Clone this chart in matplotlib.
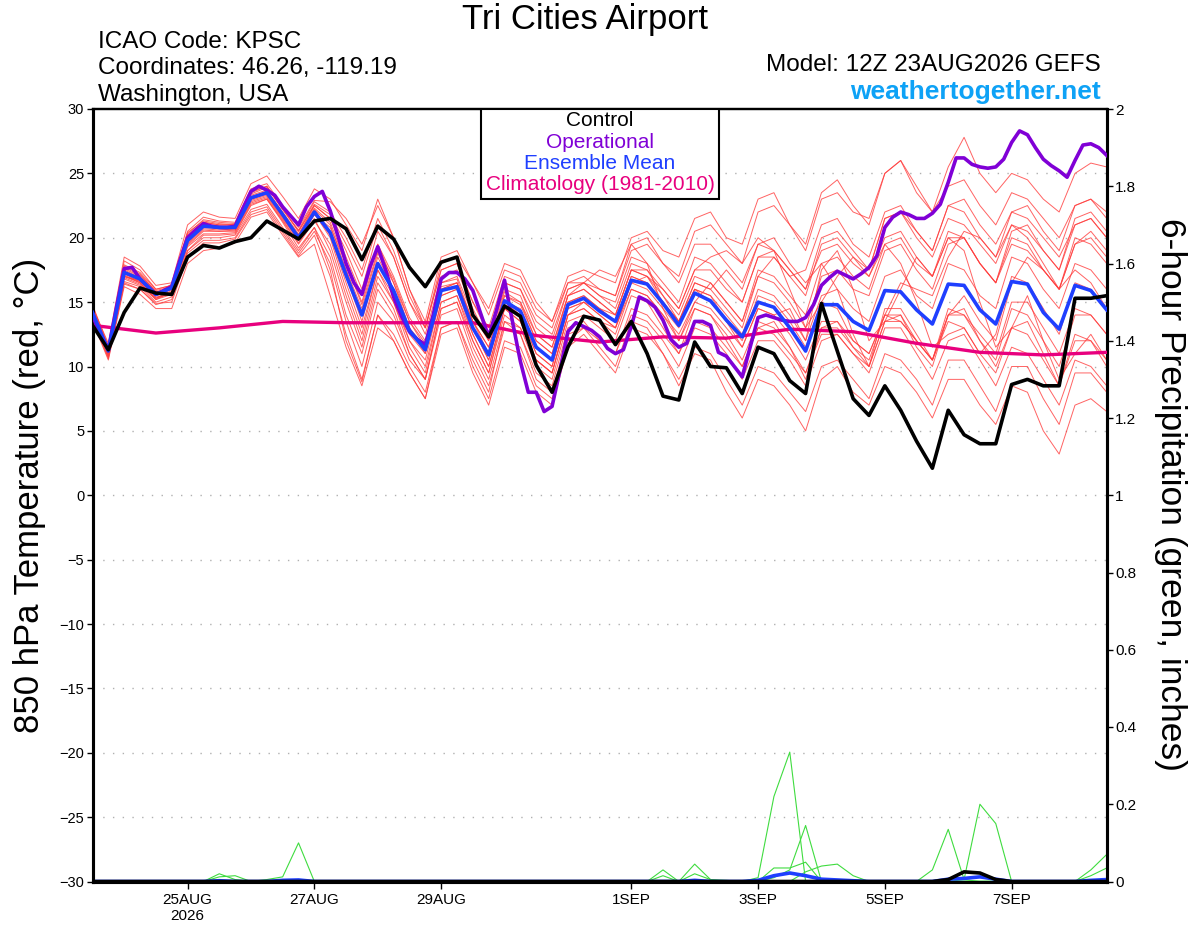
import numpy as np
import matplotlib
matplotlib.use('Agg')
import matplotlib.pyplot as plt
from matplotlib.patches import Rectangle

plt.rcParams['font.family'] = ['Liberation Sans', 'DejaVu Sans']

# ---------------- data ----------------
start = np.datetime64('2026-08-23T12:00')

control = [13.2, 11.3, 14.2, 16.1, 15.7, 15.6, 18.5, 19.4, 19.2, 19.7, 20.0, 21.3, 20.6, 19.9, 21.3,
           21.5, 20.7, 18.3, 20.9, 19.9, 17.7, 16.2, 18.1, 18.5, 14.0, 12.3, 14.7, 13.9, 10.1, 8.0,
           11.5, 13.9, 13.6, 11.7, 13.5, 11.0, 7.7, 7.4, 11.9, 10.0, 9.9, 7.9, 11.5, 11.0, 8.9,
           7.9, 14.9, 11.2, 7.5, 6.2, 8.5, 6.6, 4.2, 2.1, 6.6, 4.7, 4.0, 4.0, 8.6, 9.0,
           8.5, 8.5, 15.3, 15.3, 15.5]

ens_mean = [14.2, 11.2, 17.3, 16.8, 15.6, 16.1, 19.8, 20.9, 20.8, 20.8, 23.1, 23.5, 21.8, 20.0, 22.0,
            20.4, 17.1, 14.0, 18.0, 15.9, 12.8, 11.3, 15.9, 16.2, 13.0, 10.9, 15.1, 14.3, 11.5, 10.5,
            14.8, 15.3, 14.3, 13.5, 16.7, 16.4, 14.9, 13.2, 15.7, 15.1, 13.6, 12.3, 15.0, 14.6, 13.0,
            11.2, 14.8, 14.8, 13.5, 12.8, 15.9, 15.8, 14.4, 13.3, 16.4, 16.3, 14.4, 13.3, 16.6, 16.4,
            14.2, 12.9, 16.3, 15.9, 14.4]

# operational run, 3-hourly
operational = [13.9, 12.6, 11.3, 14.5, 17.6, 17.7, 16.8, 16.2, 15.6, 15.9, 16.2, 18.2, 20.0, 20.6, 21.1,
               20.9, 20.8, 20.8, 20.9, 22.3, 23.6, 24.0, 23.7, 23.3, 22.4, 21.7, 21.0, 22.4, 23.2, 23.6,
               22.1, 20.1, 18.0, 16.5, 15.6, 17.7, 19.3, 17.5, 15.4, 13.9, 12.7, 12.1, 11.7, 14.0, 16.8,
               17.3, 17.3, 16.8, 15.9, 14.1, 12.3, 14.4, 16.7, 13.5, 10.4, 8.0, 8.0, 6.5, 6.9, 9.7,
               12.7, 13.4, 13.1, 12.8, 12.3, 11.4, 11.0, 11.3, 13.1, 15.4, 15.1, 14.6, 13.6, 12.1, 11.5,
               11.8, 13.5, 13.5, 13.2, 11.1, 10.8, 10.0, 9.2, 11.5, 13.8, 14.0, 13.8, 13.6, 13.5,
               13.5, 13.8, 14.8, 16.3, 16.9, 17.4, 17.1, 16.8, 17.2, 17.7, 18.6, 20.8, 21.6, 22.0, 21.8,
               21.5, 21.5, 21.9, 22.6, 24.3, 26.2, 26.2, 25.7, 25.5, 25.4, 25.5, 26.1, 27.4, 28.3, 28.0,
               27.0, 26.1, 25.6, 25.2, 24.7, 26.0, 27.2, 27.3, 27.0, 26.4]

# climatology, daily at 12Z
climatology = [13.2, 12.6, 13.0, 13.5, 13.4, 13.4, 13.4, 12.4, 11.9, 12.3, 12.2, 12.9, 12.7,
               11.8, 11.1, 10.9, 11.1]

member01 = [14.8, 11.6, 18.2, 17.5, 16.0, 16.3, 20.5, 21.6, 21.3, 21.2, 23.8, 24.2, 22.5, 20.8, 22.9,
            22.8, 21.5, 19.5, 22.5, 20.0, 16.0, 13.5, 18.5, 19.0, 16.5, 14.5, 18.0, 17.5, 15.0, 13.5, 17.0,
            17.5, 17.0, 16.5, 20.0, 20.5, 19.0, 18.5, 21.5, 22.0, 20.0, 19.5, 23.0, 23.5, 21.0, 19.5, 23.5,
            24.5, 22.5, 21.0, 25.0, 26.0, 23.5, 22.0, 25.5, 27.8, 25.0, 23.5, 25.0, 24.5, 23.0, 22.0, 25.0,
            25.8, 25.5]
member02 = [14.5, 11.0, 17.8, 17.2, 15.8, 16.0, 20.2, 21.2, 21.0, 21.0, 23.5, 24.0, 22.2, 20.5, 22.5,
            21.5, 19.0, 16.0, 20.5, 18.5, 15.0, 13.0, 17.5, 18.0, 15.0, 13.0, 17.0, 16.5, 14.0, 13.0, 16.5,
            17.0, 16.0, 15.5, 19.5, 20.0, 18.0, 17.0, 20.5, 21.0, 19.5, 18.0, 22.0, 22.5, 21.0, 19.0, 23.0,
            23.5, 22.0, 21.5, 25.0, 26.0, 24.0, 22.0, 24.0, 24.5, 22.5, 21.0, 23.5, 23.0, 21.5, 20.0, 22.5,
            23.0, 22.0]
member03 = [14.0, 11.3, 17.0, 16.5, 15.2, 15.8, 19.5, 20.6, 20.5, 20.6, 22.8, 23.2, 21.5, 19.8, 21.8,
            20.8, 18.0, 15.0, 19.5, 17.0, 13.8, 12.0, 16.5, 17.0, 14.0, 12.0, 16.0, 15.5, 12.5, 11.5,
            15.5, 16.5, 17.5, 17.0, 19.5, 18.0, 14.5, 12.0, 15.0, 16.5, 15.0, 13.5, 17.0, 18.5, 17.0,
            17.5, 21.0, 21.5, 19.5, 18.5, 22.0, 22.5, 20.5, 19.0, 22.5, 22.0, 20.0, 18.5, 22.0, 22.5,
            20.5, 19.0, 22.5, 23.0, 21.5]
member04 = [14.3, 11.4, 17.5, 16.9, 15.7, 16.2, 19.9, 21.0, 20.9, 20.9, 23.2, 23.6, 21.9, 20.1, 22.2,
            21.0, 17.5, 14.5, 18.8, 16.5, 13.5, 11.8, 16.5, 16.8, 13.5, 11.5, 15.8, 15.0, 12.0, 11.0, 15.5,
            16.0, 15.0, 14.0, 17.5, 17.0, 15.5, 14.0, 17.0, 16.5, 15.0, 13.5, 17.5, 17.0, 15.5, 14.0, 18.0,
            18.5, 17.0, 16.0, 19.5, 20.0, 18.0, 17.0, 20.5, 20.0, 18.0, 16.5, 20.0, 19.5, 17.5, 16.0, 20.0,
            19.5, 18.0]
member05 = [14.1, 11.0, 17.2, 16.6, 15.5, 16.0, 19.6, 20.7, 20.6, 20.7, 22.9, 23.3, 21.6, 19.8, 21.8,
            20.5, 17.0, 13.5, 18.0, 16.0, 12.5, 11.0, 16.0, 16.5, 13.0, 10.5, 15.0, 14.5, 11.5, 10.5, 15.0,
            15.5, 14.5, 13.5, 17.0, 16.5, 15.0, 13.5, 16.0, 15.5, 14.0, 12.5, 16.0, 15.5, 14.0, 12.0, 15.5,
            16.0, 14.5, 13.5, 17.0, 17.5, 15.5, 14.5, 18.0, 17.5, 15.5, 14.5, 18.5, 18.0, 16.0, 14.5, 18.0,
            17.5, 16.0]
member06 = [14.0, 10.8, 16.8, 16.3, 15.2, 15.6, 19.3, 20.3, 20.3, 20.4, 22.6, 23.0, 21.3, 19.5, 21.3,
            19.5, 15.5, 12.0, 17.0, 15.0, 12.0, 10.5, 15.5, 16.0, 12.5, 10.0, 14.5, 13.5, 10.5, 9.5,
            14.0, 14.5, 13.5, 12.5, 16.0, 15.5, 14.0, 12.5, 15.0, 14.5, 13.0, 11.5, 14.5, 14.0,
            14.5, 12.0, 17.5, 19.0, 16.0, 12.0, 13.5, 16.0, 18.5, 17.0, 20.0, 19.0, 15.0, 11.5, 13.0,
            15.5, 12.0, 9.0, 11.0, 12.5, 10.5]
member07 = [13.8, 10.6, 16.5, 16.0, 14.8, 15.2, 18.8, 19.8, 19.8, 20.0, 22.0, 22.4, 20.6, 18.8, 20.5,
            18.0, 13.5, 10.0, 15.0, 13.5, 10.5, 9.0, 14.0, 14.5, 11.0, 8.5, 13.0, 12.5, 9.5, 8.5, 13.0,
            13.5, 12.0, 11.0, 14.5, 14.0, 12.5, 11.0, 13.5, 13.0, 11.5, 10.0, 13.0, 12.5, 11.0, 9.5, 12.5,
            12.5, 11.0, 10.0, 13.5, 13.5, 12.0, 10.5, 14.0, 14.0, 12.0, 10.5, 14.5, 14.0, 12.0, 10.0, 14.0,
            14.0, 12.5]
member08 = [13.5, 10.5, 16.2, 15.6, 14.5, 14.5, 18.0, 19.0, 19.2, 19.6, 21.6, 22.0, 20.2, 18.5, 19.5,
            15.5, 11.5, 8.5, 13.0, 12.0, 9.5, 7.5, 12.5, 13.0, 9.5, 7.0, 11.5, 11.0, 8.0, 7.0, 11.5,
            12.5, 11.0, 9.5, 13.0, 12.5, 11.0, 9.0, 11.5, 11.0, 9.0, 7.0, 10.0, 9.5, 8.0, 6.5, 10.0,
            10.5, 9.0, 7.5, 11.0, 10.5, 9.0, 7.0, 10.5, 10.5, 8.5, 6.5, 10.0, 10.0, 7.5, 5.5, 9.5,
            9.5, 8.0]
member09 = [13.6, 10.7, 16.4, 16.0, 14.9, 15.0, 18.5, 19.6, 19.6, 19.9, 21.8, 22.2, 20.4, 18.6, 20.2,
            17.0, 12.5, 9.0, 14.0, 12.5, 10.0, 8.0, 13.0, 13.5, 10.0, 7.5, 12.0, 11.5, 8.5, 7.5, 12.0,
            13.0, 11.5, 10.0, 13.5, 13.0, 11.0, 8.5, 11.0, 10.5, 8.0, 6.0, 9.0, 8.5, 7.0, 5.0, 9.0,
            10.0, 8.0, 7.0, 10.0, 9.5, 8.0, 6.0, 9.0, 9.0, 7.0, 5.5, 8.5, 8.0, 5.0, 3.2, 7.0,
            7.5, 6.5]
member10 = [14.6, 11.8, 18.5, 17.8, 16.3, 16.5, 21.0, 22.0, 21.6, 21.5, 24.2, 24.8, 23.2, 21.5, 23.8,
            23.0, 21.0, 19.0, 23.0, 20.0, 16.0, 13.0, 18.0, 18.5, 16.5, 14.0, 17.5, 17.0, 14.5, 13.5, 16.5,
            16.5, 15.5, 14.5, 18.0, 17.5, 15.5, 13.5, 16.0, 15.5, 13.5, 11.5, 14.5, 14.0, 12.5, 10.5, 13.5,
            13.5, 12.0, 11.0, 14.0, 13.5, 12.0, 10.5, 13.5, 13.0, 11.0, 9.5, 13.0, 12.5, 10.5, 8.5, 12.0,
            12.0, 10.5]
member11 = [14.2, 11.1, 17.0, 16.6, 15.4, 15.6, 19.0, 20.2, 20.2, 20.3, 22.5, 23.0, 21.2, 19.2, 20.8,
            17.5, 12.0, 8.8, 14.0, 12.0, 9.5, 7.5, 13.0, 13.5, 10.5, 8.0, 13.5, 13.0, 10.5, 9.5, 14.0,
            15.0, 14.0, 13.0, 16.5, 17.0, 16.0, 14.5, 17.5, 17.5, 16.0, 15.0, 18.5, 19.0, 17.5, 16.0, 20.0,
            20.5, 19.0, 17.5, 21.5, 22.0, 20.0, 18.5, 21.5, 21.0, 19.5, 18.0, 21.0, 20.5, 19.0, 17.5, 21.0,
            21.5, 20.0]
member12 = [14.4, 11.2, 17.4, 16.8, 15.6, 16.4, 20.0, 21.1, 20.9, 20.8, 23.0, 23.4, 21.8, 20.2, 22.5,
            21.5, 18.5, 15.5, 19.5, 16.5, 13.0, 11.0, 15.5, 16.0, 13.0, 10.5, 15.0, 14.0, 11.0, 10.0,
            14.5, 15.0, 14.5, 14.0, 17.5, 17.0, 15.0, 13.5, 16.5, 16.0,
            17.5, 16.0, 19.5, 20.0, 18.0, 16.5, 18.0, 16.0, 12.5, 10.0, 13.5, 14.0, 11.5, 10.0, 14.0,
            15.5, 13.5, 12.0, 16.5, 18.5, 17.5, 16.0, 19.5, 20.5, 19.0]
member13 = [13.9, 11.0, 17.1, 16.5, 15.3, 15.9, 19.7, 20.8, 20.7, 20.6, 23.0, 23.5, 21.7, 19.9, 21.9,
            20.0, 16.0, 12.5, 17.5, 15.0, 11.5, 9.5, 15.0, 15.5, 12.0, 9.5, 14.0, 13.0, 10.0, 9.0, 13.5,
            14.0, 13.0, 12.0, 15.5, 15.0, 13.0, 11.0, 14.5, 14.0, 12.0, 10.0, 13.0, 13.5, 11.5, 9.0, 13.0,
            13.5, 11.5, 10.0, 14.5, 14.5, 12.5, 10.5, 14.0, 14.5, 12.0, 10.0, 13.0, 13.5, 11.0, 8.5, 12.5,
            12.0, 10.0]
member14 = [14.7, 11.5, 17.9, 17.3, 16.0, 16.3, 20.3, 21.4, 21.2, 21.1, 23.6, 24.0, 22.3, 20.5, 22.6,
            21.8, 19.5, 17.0, 21.0, 18.5, 15.0, 12.5, 17.0, 17.5, 14.5, 12.0, 16.5, 16.0, 13.0, 12.0, 16.0,
            16.5, 16.0, 15.5, 19.0, 19.5, 18.0, 16.5, 19.5, 19.5, 18.0, 16.5, 19.5, 19.0, 17.5, 16.0, 19.0,
            19.5, 18.0, 17.0, 20.0, 20.5, 18.5, 17.0, 20.0, 20.0, 18.0, 16.5, 19.5, 19.0, 17.5, 16.0, 19.5,
            20.0, 18.5]
member15 = [13.7, 10.9, 16.6, 16.2, 15.0, 15.4, 19.0, 20.0, 20.0, 20.2, 22.2, 22.6, 20.8, 19.0, 20.8,
            18.5, 14.0, 11.0, 16.0, 14.0, 11.0, 9.0, 14.5, 15.0, 11.5, 9.0, 13.5, 12.5, 9.0, 8.0, 12.5,
            13.0, 12.0, 11.0, 14.0, 13.5, 12.0, 10.0, 13.0, 12.5, 11.0, 9.0, 12.0, 12.0, 10.5, 8.5, 12.0,
            12.5, 11.0, 9.5, 13.0, 13.0, 11.0, 9.0, 12.0, 12.5, 10.5, 8.5, 11.5, 11.0, 9.0, 7.0, 10.5,
            10.0, 8.5]
member16 = [14.3, 11.3, 17.6, 17.0, 15.8, 16.1, 20.1, 21.2, 21.0, 21.0, 23.3, 23.7, 22.0, 20.3, 22.3,
            21.2, 18.0, 14.8, 19.0, 16.8, 13.5, 11.5, 16.2, 16.5, 13.5, 11.0, 15.5, 14.8, 12.0, 11.0, 15.0,
            15.5, 14.5, 13.5, 17.0, 16.5, 15.0, 13.5, 16.5, 16.0, 14.5, 13.0, 17.0, 16.5, 15.0, 13.0, 17.0,
            17.5, 16.0, 15.5, 19.0, 19.5, 17.5, 16.0, 19.5, 20.0, 18.0, 16.5, 20.5, 21.0, 19.0, 17.5, 21.5,
            22.0, 20.5]
member17 = [13.9, 10.8, 16.9, 16.4, 15.3, 15.7, 19.4, 20.5, 20.5, 20.5, 22.7, 23.1, 21.4, 19.6, 21.5,
            19.0, 15.0, 11.5, 16.5, 14.5, 11.0, 9.0, 14.5, 15.0, 12.0, 9.5, 14.5, 13.5, 10.5, 9.5,
            14.0, 14.5, 13.5, 13.0, 16.5, 16.0, 14.5, 13.0, 16.0, 15.0, 13.5, 12.0, 15.5, 15.0,
            13.5, 11.5, 15.0, 17.0, 18.5, 17.0, 19.5, 18.0, 15.0, 11.5, 12.5, 13.0, 11.0, 12.5, 17.0,
            16.5, 14.5, 12.5, 16.5, 16.0, 14.5]
member18 = [14.5, 11.4, 17.7, 17.1, 15.9, 16.2, 20.4, 21.3, 21.1, 21.0, 23.4, 23.9, 22.2, 20.6, 22.8,
            22.0, 20.0, 17.5, 21.5, 19.0, 15.5, 13.0, 17.5, 18.0, 15.0, 12.5, 16.5, 16.0, 13.5, 12.5, 16.0,
            16.5, 15.5, 15.0, 18.5, 18.0, 16.5, 15.0, 18.5, 18.0, 16.5, 15.0, 18.5, 18.5, 17.0, 15.5, 19.5,
            20.0, 18.5, 17.5, 21.5, 22.0, 20.5, 19.0, 22.5, 23.0, 21.0, 19.5, 22.0, 21.5, 20.0, 18.5, 21.0,
            21.5, 20.0]
member19 = [14.0, 11.0, 17.0, 16.7, 15.5, 16.0, 19.8, 20.9, 20.8, 20.8, 23.0, 23.4, 21.7, 19.9, 21.9,
            20.2, 16.5, 13.0, 17.5, 15.5, 12.0, 10.0, 15.0, 15.5, 12.5, 10.0, 14.5, 14.0, 11.0, 10.0, 14.5,
            15.0, 14.0, 13.0, 16.0, 15.5, 14.0, 12.0, 14.5, 14.0, 12.5, 10.5, 13.5, 13.0, 11.5, 9.5, 13.0,
            13.0, 11.5, 10.5, 14.0, 14.0, 12.0, 10.5, 14.5, 14.0, 12.5, 11.0, 15.0, 15.0, 13.0, 11.0, 14.5,
            14.0, 12.5]
member20 = [14.2, 11.2, 17.3, 16.8, 15.6, 16.0, 19.8, 20.9, 20.8, 20.9, 23.1, 23.6, 21.9, 20.0, 22.1,
            20.5, 17.5, 14.0, 18.5, 16.0, 13.0, 11.5, 16.0, 16.5, 13.5, 11.5, 15.5, 15.0, 12.5, 11.5,
            15.5, 16.0, 15.0, 14.0, 17.5, 17.5,
            16.0, 14.5, 17.5, 18.5, 19.0, 18.0, 20.0, 19.0, 16.0, 13.0, 15.0, 14.5, 12.0,
            11.0, 14.0, 16.5, 16.0, 15.5, 18.5, 20.5, 20.0, 18.5, 21.0, 20.0, 18.0, 16.0, 17.5, 16.5, 14.5]
members = [member01, member02, member03, member04, member05, member06, member07, member08, member09,
           member10, member11, member12, member13, member14, member15, member16, member17, member18,
           member19, member20]

# 6-hour precipitation (inches): non-zero entries {step index: value}
precip_member_events = [
    {8: 0.02, 9: 0.005},
    {8: 0.012, 9: 0.015},
    {11: 0.005, 12: 0.012, 13: 0.10},
    {36: 0.03, 38: 0.045, 39: 0.005},
    {36: 0.015, 38: 0.02, 39: 0.005, 40: 0.003},
    {42: 0.01, 43: 0.22, 44: 0.335},
    {43: 0.035, 44: 0.035, 45: 0.05},
    {43: 0.01, 44: 0.03, 45: 0.145},
    {45: 0.025, 46: 0.04, 47: 0.045, 48: 0.015},
    {53: 0.03, 54: 0.135, 55: 0.005},
    {55: 0.005, 56: 0.20, 57: 0.15},
    {63: 0.03, 64: 0.07},
    {63: 0.015, 64: 0.035},
]
precip_control_events = {54: 0.005, 55: 0.025, 56: 0.022, 57: 0.005}
precip_mean_events = {8: 0.002, 12: 0.003, 13: 0.004, 38: 0.003, 42: 0.003, 43: 0.015, 44: 0.022,
                      45: 0.015, 46: 0.006, 47: 0.004, 48: 0.002, 54: 0.006, 55: 0.008, 56: 0.012,
                      57: 0.006, 63: 0.003, 64: 0.005}

xtick_dates = ['2026-08-25', '2026-08-27', '2026-08-29', '2026-09-01', '2026-09-03', '2026-09-05', '2026-09-07']
xtick_labels = ['25AUG\n2026', '27AUG', '29AUG', '1SEP', '3SEP', '5SEP', '7SEP']
temp_ticks = list(range(-30, 31, 5))
precip_ticks = [0, 0.2, 0.4, 0.6, 0.8, 1, 1.2, 1.4, 1.6, 1.8, 2]
precip_ticklabels = ['0', '0.2', '0.4', '0.6', '0.8', '1', '1.2', '1.4', '1.6', '1.8', '2']

# ---------------- figure ----------------
W, H = 1200, 927
fig = plt.figure(figsize=(W / 100, H / 100), dpi=100)
L, R, T, B = 92.5, 1106.7, 109.0, 881.5
ax = fig.add_axes([L / W, 1 - B / H, (R - L) / W, (B - T) / H])
ax2 = ax.twinx()
ax.set_zorder(ax2.get_zorder() + 1)
ax.patch.set_visible(False)

n6 = len(control)
t6 = start + np.arange(n6) * np.timedelta64(6, 'h')
t3 = start + np.arange(len(operational)) * np.timedelta64(3, 'h')
tcl = start + np.arange(len(climatology)) * np.timedelta64(24, 'h')

def expand(ev):
    arr = np.zeros(n6)
    for k, v in ev.items():
        arr[k] = v
    return arr

# precipitation on the right axis
for ev in precip_member_events:
    ax2.plot(t6, expand(ev), color='#3fdc3f', lw=0.8, zorder=2)
ax2.plot(t6, expand(precip_mean_events), color='#1f3fff', lw=2.6, zorder=3)
ax2.plot(t6, expand(precip_control_events), color='black', lw=2.6, zorder=4)
ax2.set_ylim(0, 2)
ax2.set_yticks(precip_ticks)
ax2.set_yticklabels(precip_ticklabels)

# temperatures on the left axis
for m in members:
    ax.plot(t6, m, color='#ff3c3c', lw=0.7, alpha=0.8, zorder=2)
ax.plot(tcl, climatology, color='#e8007e', lw=2.4, zorder=3)
ax.plot(t3, operational, color='#8000d6', lw=2.6, zorder=4, solid_joinstyle='round')
ax.plot(t6, ens_mean, color='#1f3fff', lw=2.6, zorder=5)
ax.plot(t6, control, color='black', lw=2.6, zorder=6)

ax.set_ylim(-30, 30)
ax.set_yticks(temp_ticks)
ax.set_xlim(t6[0], t6[-1])
ax.set_xticks([np.datetime64(d + 'T00:00') for d in xtick_dates])
ax.set_xticklabels(xtick_labels)

for y in temp_ticks[1:-1]:
    ax.axhline(y, color='#b0b0b0', lw=1.0, linestyle=(0, (1, 6)), zorder=1)

for a in (ax, ax2):
    for s in a.spines.values():
        s.set_linewidth(2.2)
    a.spines['top'].set_linewidth(1.6)
ax.tick_params(axis='y', direction='out', length=4, width=1, labelsize=10.5, pad=2)
ax2.tick_params(axis='y', direction='out', length=4, width=1, labelsize=11, pad=2)
ax.tick_params(axis='x', direction='out', length=5, width=1, labelsize=11, pad=3)

# legend box
x0 = (481 - L) / (R - L)
x1 = (719 - L) / (R - L)
y0 = (B - 198.5) / (B - T)
ax.add_patch(Rectangle((x0, y0), x1 - x0, 1 - y0, transform=ax.transAxes, facecolor='white',
                       edgecolor='black', lw=1.5, zorder=10))
legend_items = [('Control', 'black'), ('Operational', '#8000d6'), ('Ensemble Mean', '#1f3fff'),
                ('Climatology (1981-2010)', '#e8007e')]
for j, (txt, col) in enumerate(legend_items):
    ypix = 121 + j * 21.3
    ax.text((x0 + x1) / 2, (B - ypix) / (B - T), txt, color=col, fontsize=15, ha='center',
            va='center', transform=ax.transAxes, zorder=11)

# header text
fig.text(585 / W, 1 - 20 / H, 'Tri Cities Airport', fontsize=25, ha='center', va='center')
fig.text(98 / W, 1 - 42 / H, 'ICAO Code: KPSC', fontsize=17.5, ha='left', va='center')
fig.text(98 / W, 1 - 68 / H, 'Coordinates: 46.26, -119.19', fontsize=17.5, ha='left', va='center')
fig.text(98 / W, 1 - 95 / H, 'Washington, USA', fontsize=17.5, ha='left', va='center')
fig.text(1101 / W, 1 - 65 / H, 'Model: 12Z 23AUG2026 GEFS', fontsize=17.5, ha='right', va='center')
fig.text(1101 / W, 1 - 92 / H, 'weathertogether.net', fontsize=19, ha='right', va='center',
         color='#0ea2f6', fontweight='bold')

fig.text(30 / W, 1 - 495 / H, '850 hPa Temperature (red, \u00b0C)', fontsize=25, rotation=90,
         ha='center', va='center')
fig.text(1171 / W, 1 - 495 / H, '6-hour Precipitation (green, inches)', fontsize=25.5, rotation=-90,
         ha='center', va='center')

fig.savefig('out.png', dpi=100)
